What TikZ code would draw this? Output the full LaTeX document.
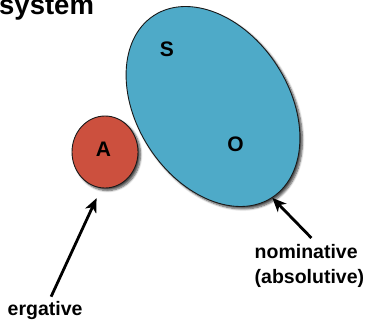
\documentclass[tikz,border=0pt]{standalone}
\usepackage{fontspec}
\setmainfont{Liberation Sans}
\usetikzlibrary{shapes.geometric,arrows.meta,shadows.blur}

\definecolor{ergred}{RGB}{204,80,62}
\definecolor{nomblue}{RGB}{78,170,200}

\begin{document}
\begin{tikzpicture}[x=1pt, y=1pt,
    role/.style={ellipse, draw=black!90, line width=0.9pt, inner sep=0pt,
        blur shadow={shadow xshift=2.5pt, shadow yshift=-2.5pt, shadow blur steps=6, shadow opacity=70}},
    letter/.style={font=\fontsize{21}{24}\selectfont\bfseries, inner sep=0pt},
    caselabel/.style={font=\fontsize{19.5}{25}\selectfont\bfseries, inner sep=0pt, align=left},
    pointer/.style={line width=2.8pt, -{Stealth[length=14pt, width=12pt, inset=4pt]}}]
    \useasboundingbox (0,0) rectangle (370,322);

    % Draw title (cut at the top)
    \node[anchor=base west, inner sep=0pt, font=\fontsize{27.5}{30}\selectfont\bfseries] (title) at (-1,307.5) {system};

    % Draw the two groups
    \node[role, fill=nomblue, minimum width=217pt, minimum height=152pt, rotate=-57] (absgroup) at (213,215.5) {};
    \node[role, fill=ergred, minimum width=66pt, minimum height=72pt] (agent) at (105,170) {};

    % Draw letters
    \node[letter] (subj) at (167,273) {S};
    \node[letter] (obj) at (235.5,177.5) {O};
    \node[letter] (agentlbl) at (103.5,172.5) {A};

    % Draw case labels
    \node[caselabel, anchor=base west] (erg) at (7.5,7) {ergative};
    \node[caselabel, anchor=north west] (nom) at (254.5,78) {nominative\\(absolutive)};

    % Draw pointers
    \draw[pointer, shorten >=11pt] ([xshift=6pt, yshift=4pt]erg.north) -- (agent.-96);
    \draw[pointer] ([xshift=2pt, yshift=6pt]nom.north) -- (absgroup.east);
\end{tikzpicture}
\end{document}
